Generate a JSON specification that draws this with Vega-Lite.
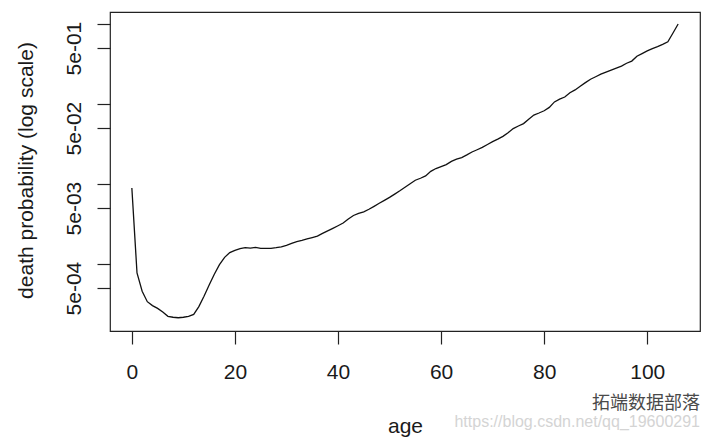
{
  "$schema": "https://vega.github.io/schema/vega-lite/v6.json",
  "description": "Death probability by age, log scale",
  "autosize": {"type": "none"},
  "width": 590,
  "height": 319,
  "padding": {"left": 110, "top": 12, "right": 7, "bottom": 109},
  "background": "white",
  "config": {
    "font": "Liberation Sans",
    "view": {"stroke": "#222222", "strokeWidth": 1.2},
    "axis": {
      "domain": false,
      "grid": false,
      "ticks": true,
      "tickColor": "#222222",
      "tickSize": 13,
      "tickWidth": 1.2,
      "labelFont": "Liberation Sans",
      "labelFontSize": 21,
      "labelColor": "#1a1a1a",
      "labelOverlap": false,
      "labelFlush": false,
      "titleFont": "Liberation Sans",
      "titleFontSize": 21,
      "titleFontWeight": "normal",
      "titleColor": "#1a1a1a"
    }
  },
  "data": {
    "values": [
      {"age": 0, "p": 0.00891}, {"age": 1, "p": 0.000772}, {"age": 2, "p": 0.000457},
      {"age": 3, "p": 0.000338}, {"age": 4, "p": 0.000302}, {"age": 5, "p": 0.000279},
      {"age": 6, "p": 0.000251}, {"age": 7, "p": 0.000222}, {"age": 8, "p": 0.000216},
      {"age": 9, "p": 0.000213}, {"age": 10, "p": 0.000216}, {"age": 11, "p": 0.000221},
      {"age": 12, "p": 0.000234}, {"age": 13, "p": 0.000293}, {"age": 14, "p": 0.000395},
      {"age": 15, "p": 0.000545}, {"age": 16, "p": 0.000746}, {"age": 17, "p": 0.000983},
      {"age": 18, "p": 0.00121}, {"age": 19, "p": 0.00139}, {"age": 20, "p": 0.00148},
      {"age": 21, "p": 0.00156}, {"age": 22, "p": 0.0016}, {"age": 23, "p": 0.00158},
      {"age": 24, "p": 0.00161}, {"age": 25, "p": 0.00157}, {"age": 26, "p": 0.00157},
      {"age": 27, "p": 0.00157}, {"age": 28, "p": 0.0016}, {"age": 29, "p": 0.00164},
      {"age": 30, "p": 0.00171}, {"age": 31, "p": 0.00181}, {"age": 32, "p": 0.00191},
      {"age": 33, "p": 0.00198}, {"age": 34, "p": 0.00206}, {"age": 35, "p": 0.00214},
      {"age": 36, "p": 0.00223}, {"age": 37, "p": 0.00241}, {"age": 38, "p": 0.00259},
      {"age": 39, "p": 0.00279}, {"age": 40, "p": 0.00301}, {"age": 41, "p": 0.00325},
      {"age": 42, "p": 0.00365}, {"age": 43, "p": 0.00404}, {"age": 44, "p": 0.00429},
      {"age": 45, "p": 0.00448}, {"age": 46, "p": 0.00483}, {"age": 47, "p": 0.00526},
      {"age": 48, "p": 0.00575}, {"age": 49, "p": 0.00625}, {"age": 50, "p": 0.0068},
      {"age": 51, "p": 0.00748}, {"age": 52, "p": 0.00822}, {"age": 53, "p": 0.00909},
      {"age": 54, "p": 0.01006}, {"age": 55, "p": 0.01115}, {"age": 56, "p": 0.0118},
      {"age": 57, "p": 0.0126}, {"age": 58, "p": 0.0144}, {"age": 59, "p": 0.0156},
      {"age": 60, "p": 0.0165}, {"age": 61, "p": 0.0175}, {"age": 62, "p": 0.0192},
      {"age": 63, "p": 0.0204}, {"age": 64, "p": 0.0214}, {"age": 65, "p": 0.0231},
      {"age": 66, "p": 0.0251}, {"age": 67, "p": 0.0268}, {"age": 68, "p": 0.0287},
      {"age": 69, "p": 0.0312}, {"age": 70, "p": 0.0338}, {"age": 71, "p": 0.0364},
      {"age": 72, "p": 0.0394}, {"age": 73, "p": 0.0438}, {"age": 74, "p": 0.0493},
      {"age": 75, "p": 0.0531}, {"age": 76, "p": 0.0569}, {"age": 77, "p": 0.0646},
      {"age": 78, "p": 0.0727}, {"age": 79, "p": 0.0772}, {"age": 80, "p": 0.0824},
      {"age": 81, "p": 0.0907}, {"age": 82, "p": 0.1062}, {"age": 83, "p": 0.1151},
      {"age": 84, "p": 0.1223}, {"age": 85, "p": 0.1384}, {"age": 86, "p": 0.15},
      {"age": 87, "p": 0.167}, {"age": 88, "p": 0.185}, {"age": 89, "p": 0.204},
      {"age": 90, "p": 0.219}, {"age": 91, "p": 0.236}, {"age": 92, "p": 0.25},
      {"age": 93, "p": 0.265}, {"age": 94, "p": 0.281}, {"age": 95, "p": 0.297},
      {"age": 96, "p": 0.323}, {"age": 97, "p": 0.344}, {"age": 98, "p": 0.396},
      {"age": 99, "p": 0.427}, {"age": 100, "p": 0.461}, {"age": 101, "p": 0.493},
      {"age": 102, "p": 0.522}, {"age": 103, "p": 0.556}, {"age": 104, "p": 0.599},
      {"age": 105, "p": 0.772}, {"age": 106, "p": 1.0}
    ]
  },
  "title": {
    "text": "拓端数据部落",
    "subtitle": "https://blog.csdn.net/qq_19600291",
    "orient": "bottom",
    "anchor": "end",
    "frame": "group",
    "offset": -41,
    "font": "Noto Sans CJK SC",
    "fontSize": 18,
    "fontWeight": "normal",
    "color": "#4a4a4a",
    "subtitleFont": "Liberation Sans",
    "subtitleFontSize": 16,
    "subtitleColor": "#d4d4d4",
    "subtitlePadding": 1
  },
  "mark": {"type": "line", "color": "#111111", "strokeWidth": 1.3},
  "encoding": {
    "x": {
      "field": "age",
      "type": "quantitative",
      "scale": {"domain": [-4.24, 110.24], "nice": false, "zero": false},
      "axis": {
        "title": "age",
        "values": [0, 20, 40, 60, 80, 100],
        "labelBaseline": "alphabetic",
        "labelPadding": 34,
        "titleBaseline": "alphabetic",
        "titleY": 101
      }
    },
    "y": {
      "field": "p",
      "type": "quantitative",
      "scale": {"type": "log", "domain": [0.00014537, 1.4125], "nice": false, "zero": false},
      "axis": {
        "title": "death probability (log scale)",
        "values": [1, 0.5, 0.1, 0.05, 0.01, 0.005, 0.001, 0.0005],
        "labelExpr": "datum.value == 0.5 ? '5e-01' : datum.value == 0.05 ? '5e-02' : datum.value == 0.005 ? '5e-03' : datum.value == 0.0005 ? '5e-04' : ''",
        "labelAngle": 270,
        "labelAlign": "center",
        "labelBaseline": "alphabetic",
        "labelPadding": 17,
        "titleAngle": 270,
        "titleAlign": "center",
        "titleBaseline": "alphabetic",
        "titleX": -78,
        "titleY": 158
      }
    }
  }
}
